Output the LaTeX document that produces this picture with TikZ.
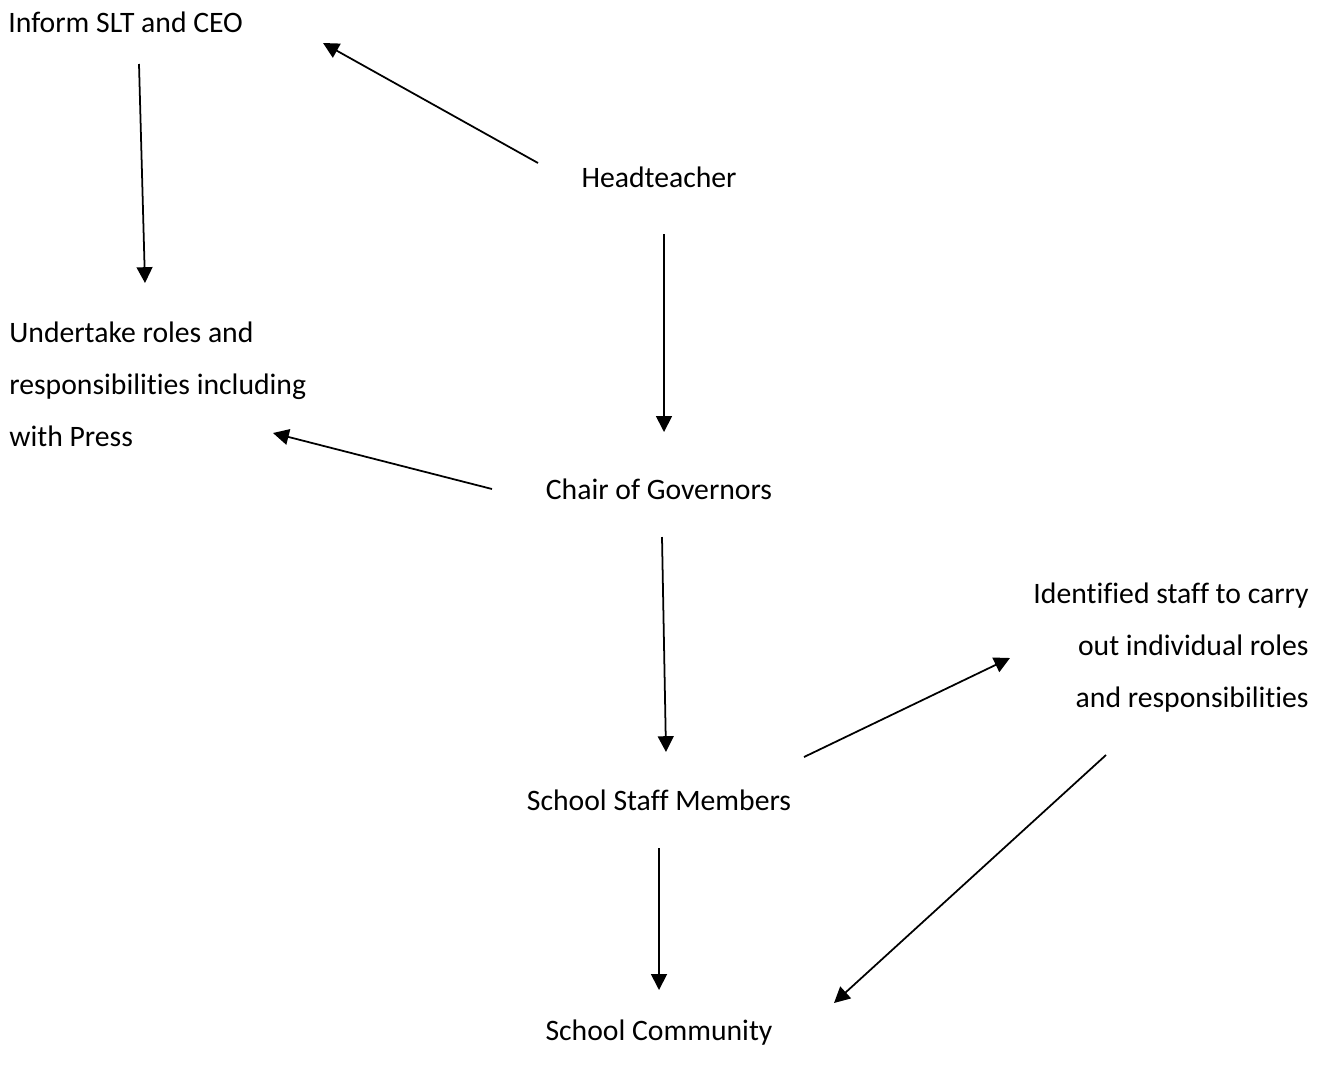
\documentclass[tikz,border=0pt]{standalone}
\usepackage{fontspec}
\setmainfont{Carlito}[Ligatures=NoCommon]
\usetikzlibrary{arrows.meta,calc}

\tikzset{
  txt/.style={inner sep=0pt, font=\fontsize{16.9}{29.6}\selectfont},
  arr/.style={-{Triangle[length=9pt,width=9pt]}, line width=1pt}
}

\begin{document}
\begin{tikzpicture}[x=0.02cm, y=-0.02cm]
  \useasboundingbox (0,0) rectangle (1327,1079);

  % -- Steps --
  \node[txt, anchor=base west] (inform) at (8,32) {Inform SLT and CEO};
  \node[txt, anchor=base] (head) at (659,187) {Headteacher};
  \node[txt, anchor=west, align=left] (under) at (9,384.5)
    {Undertake roles and\\responsibilities including\\with Press};
  \node[txt, anchor=base] (chair) at (659,499) {Chair of Governors};
  \node[txt, anchor=east, align=right] (ident) at (1309,648)
    {Identified staff to carry\\out individual roles\\and responsibilities};
  \node[txt, anchor=base] (staff) at (659,810) {School Staff Members};
  \node[txt, anchor=base] (comm) at (659,1040) {School Community};

  % -- Arrows --
  \draw[arr] ($(head.base)+(-121,-24)$) -- ($(inform.base west)+(315,11)$);
  \draw[arr] ($(inform.base west)+(131,32)$) -- ($(under.west)+(136,-101.5)$);
  \draw[arr] ($(head.base)+(5,47)$) -- ($(chair.base)+(5,-67)$);
  \draw[arr] ($(chair.base)+(-167,-10)$) -- ($(under.west)+(264,48.5)$);
  \draw[arr] ($(chair.base)+(3,38)$) -- ($(staff.base)+(7,-58)$);
  \draw[arr] ($(staff.base)+(145,-53)$) -- ($(ident.east)+(-299,10)$);
  \draw[arr] ($(staff.base)+(0,38)$) -- ($(comm.base)+(0,-50)$);
  \draw[arr] ($(ident.east)+(-203,107)$) -- ($(comm.base)+(175,-37)$);

\end{tikzpicture}
\end{document}
